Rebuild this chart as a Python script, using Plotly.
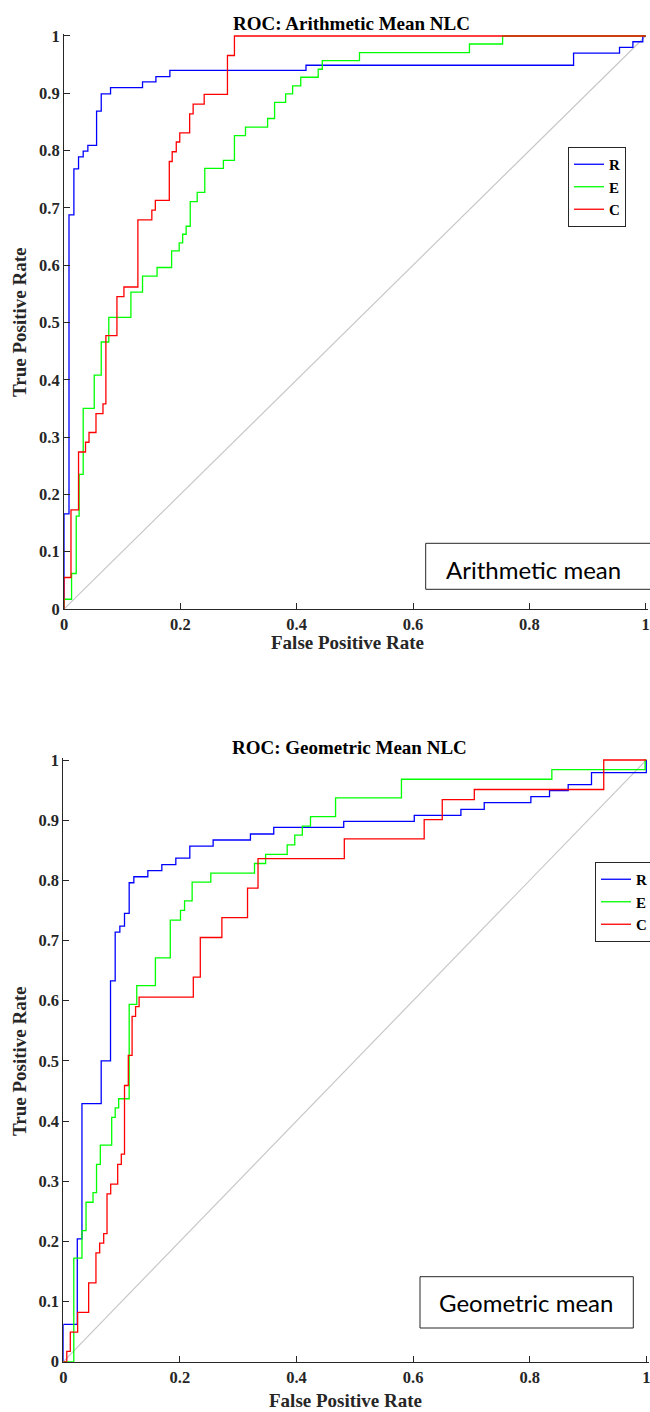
import plotly.graph_objects as go

# ---------------- Data ----------------
# Arithmetic mean NLC
am_R_fpr = [0, 0, 0.0086, 0.017, 0.025, 0.033, 0.041, 0.056, 0.064, 0.080, 0.135, 0.158, 0.182, 0.416, 0.876, 0.955, 0.978, 0.995, 1.0]
am_R_tpr = [0, 0.166, 0.688, 0.768, 0.789, 0.799, 0.809, 0.869, 0.899, 0.910, 0.920, 0.929, 0.940, 0.949, 0.970, 0.980, 0.990, 1.0, 1.0]

am_E_fpr = [0, 0, 0.013, 0.021, 0.026, 0.033, 0.052, 0.064, 0.077, 0.115, 0.135, 0.160, 0.185, 0.198, 0.204, 0.210, 0.217, 0.229,
            0.242, 0.274, 0.293, 0.312, 0.350, 0.362, 0.381, 0.393, 0.407, 0.437, 0.444, 0.508, 0.697, 0.754, 1.0]
am_E_tpr = [0, 0.017, 0.062, 0.162, 0.235, 0.350, 0.408, 0.466, 0.509, 0.553, 0.581, 0.596, 0.625, 0.639, 0.654, 0.668, 0.711, 0.727,
            0.769, 0.783, 0.826, 0.841, 0.856, 0.884, 0.899, 0.913, 0.928, 0.942, 0.957, 0.971, 0.986, 1.0, 1.0]

am_C_fpr = [0, 0, 0.012, 0.025, 0.037, 0.043, 0.055, 0.067, 0.072, 0.091, 0.103, 0.127, 0.151, 0.157, 0.181, 0.186, 0.193, 0.199,
            0.216, 0.222, 0.241, 0.281, 0.293, 1.0]
am_C_tpr = [0, 0.055, 0.173, 0.274, 0.291, 0.308, 0.341, 0.358, 0.477, 0.545, 0.562, 0.679, 0.696, 0.713, 0.781, 0.798, 0.815, 0.831,
            0.864, 0.881, 0.898, 0.966, 1.0, 1.0]

# Geometric mean NLC
gm_R_fpr = [0, 0, 0.024, 0.032, 0.065, 0.081, 0.089, 0.097, 0.105, 0.113, 0.121, 0.145, 0.169, 0.193, 0.217, 0.257, 0.321, 0.361,
            0.481, 0.602, 0.682, 0.722, 0.802, 0.834, 0.866, 0.906, 1.0]
gm_R_tpr = [0, 0.062, 0.204, 0.429, 0.500, 0.633, 0.714, 0.724, 0.745, 0.796, 0.806, 0.816, 0.826, 0.837, 0.857, 0.867, 0.877, 0.888,
            0.898, 0.908, 0.918, 0.929, 0.939, 0.949, 0.959, 0.979, 1.0]

gm_E_fpr = [0, 0.018, 0.032, 0.039, 0.051, 0.057, 0.0635, 0.083, 0.089, 0.095, 0.113, 0.126, 0.158, 0.1835, 0.201, 0.208, 0.221,
            0.253, 0.328, 0.347, 0.384, 0.397, 0.410, 0.424, 0.467, 0.580, 0.838, 0.998, 1.0]
gm_E_tpr = [0, 0.172, 0.218, 0.265, 0.281, 0.328, 0.360, 0.406, 0.422, 0.437, 0.594, 0.625, 0.671, 0.734, 0.750, 0.766, 0.797,
            0.812, 0.828, 0.843, 0.859, 0.875, 0.890, 0.906, 0.937, 0.968, 0.984, 1.0, 1.0]

gm_C_fpr = [0, 0.006, 0.012, 0.0246, 0.0435, 0.056, 0.0624, 0.0693, 0.075, 0.0813, 0.0933, 0.0995, 0.105, 0.1115, 0.118, 0.124,
            0.130, 0.223, 0.235, 0.272, 0.316, 0.334, 0.482, 0.619, 0.650, 0.705, 0.927, 1.0]
gm_C_tpr = [0, 0.017, 0.049, 0.082, 0.131, 0.181, 0.197, 0.213, 0.279, 0.295, 0.328, 0.345, 0.459, 0.509, 0.574, 0.590,
            0.606, 0.639, 0.705, 0.738, 0.787, 0.836, 0.869, 0.901, 0.934, 0.951, 1.0, 1.0]

chance_line = [0, 1]

series_names = ["R", "E", "C"]
series_colors = ["#0000ff", "#00ff00", "#ff0000"]

x_tickvals = [0, 0.2, 0.4, 0.6, 0.8, 1]
x_ticktext = ["0", "0.2", "0.4", "0.6", "0.8", "1"]
y_tickvals = [0, 0.1, 0.2, 0.3, 0.4, 0.5, 0.6, 0.7, 0.8, 0.9, 1]
y_ticktext = ["0", "0.1", "0.2", "0.3", "0.4", "0.5", "0.6", "0.7", "0.8", "0.9", "1"]

titles = ["ROC: Arithmetic Mean NLC", "ROC: Geometric Mean NLC"]
box_texts = ["Arithmetic mean", "Geometric mean"]
x_title = "False Positive Rate"
y_title = "True Positive Rate"

# ---------------- Figure ----------------
W, H = 650, 1412
SERIF = "Liberation Serif, Times New Roman, serif"
SANS = "Lato, Carlito, Calibri, sans-serif"
AX = "#262626"


def px_x(p):
    return p / W


def px_y(p):
    return 1 - p / H


fig = go.Figure()

panels = [
    dict(xa="x", ya="y", legend="legend",
         data=[(am_R_fpr, am_R_tpr), (am_E_fpr, am_E_tpr), (am_C_fpr, am_C_tpr)]),
    dict(xa="x2", ya="y2", legend="legend2",
         data=[(gm_R_fpr, gm_R_tpr), (gm_E_fpr, gm_E_tpr), (gm_C_fpr, gm_C_tpr)]),
]

for p in panels:
    fig.add_trace(go.Scatter(x=chance_line, y=chance_line, mode="lines",
                             line=dict(color="#c8c8c8", width=1.2),
                             showlegend=False, hoverinfo="skip",
                             xaxis=p["xa"], yaxis=p["ya"]))
    for (fx, ty), name, col in zip(p["data"], series_names, series_colors):
        fig.add_trace(go.Scatter(x=fx, y=ty, mode="lines", name=name,
                                 line=dict(color=col, width=1.3, shape="hv"),
                                 xaxis=p["xa"], yaxis=p["ya"], legend=p["legend"]))

axis_common = dict(showline=True, linecolor=AX, linewidth=1, ticks="inside", ticklen=6,
                   tickwidth=1, tickcolor=AX, showgrid=False, zeroline=False, automargin=False,
                   ticklabeloverflow="allow",
                   tickfont=dict(family=SERIF, size=16.5, color=AX, weight="bold"))

# panel geometry (pixels)
top = dict(x0=64, xs=581.7, y0=609, ys=573)
bot = dict(x0=63.3, xs=583, y0=1361.7, ys=601.7)
EXT = 1.004


def dom(g):
    xd = [px_x(g["x0"]), px_x(g["x0"] + EXT * g["xs"])]
    yd = [px_y(g["y0"]), px_y(g["y0"] - EXT * g["ys"])]
    return xd, yd


xd1, yd1 = dom(top)
xd2, yd2 = dom(bot)

legend_style = dict(xanchor="left", yanchor="top", bordercolor=AX, borderwidth=1, bgcolor="white",
                    font=dict(family=SERIF, size=15, color="black", weight="bold"),
                    tracegroupgap=0, itemwidth=30)

fig.update_layout(
    template="none",
    width=W, height=H, margin=dict(l=0, r=0, t=0, b=0, autoexpand=False),
    paper_bgcolor="white", plot_bgcolor="white",
    xaxis=dict(domain=xd1, range=[0, EXT], anchor="y", tickvals=x_tickvals, ticktext=x_ticktext, **axis_common),
    yaxis=dict(domain=yd1, range=[0, EXT], anchor="x", tickvals=y_tickvals, ticktext=y_ticktext, **axis_common),
    xaxis2=dict(domain=xd2, range=[0, EXT], anchor="y2", tickvals=x_tickvals, ticktext=x_ticktext, **axis_common),
    yaxis2=dict(domain=yd2, range=[0, EXT], anchor="x2", tickvals=y_tickvals, ticktext=y_ticktext, **axis_common),
    legend=dict(x=px_x(568), y=px_y(147), **legend_style),
    legend2=dict(x=px_x(595), y=px_y(862), **legend_style),
    showlegend=True,
)

title_font = dict(family=SERIF, size=19, color="black", weight="bold")
label_font = dict(family=SERIF, size=19, color=AX, weight="bold")

annotations = [
    dict(text=titles[0], x=px_x(351), y=px_y(23), xref="paper", yref="paper",
         showarrow=False, font=title_font, xanchor="center", yanchor="middle"),
    dict(text=titles[1], x=px_x(349), y=px_y(747), xref="paper", yref="paper",
         showarrow=False, font=title_font, xanchor="center", yanchor="middle"),
    dict(text=x_title, x=px_x(347), y=px_y(642), xref="paper", yref="paper",
         showarrow=False, font=label_font, xanchor="center", yanchor="middle"),
    dict(text=x_title, x=px_x(345), y=px_y(1400), xref="paper", yref="paper",
         showarrow=False, font=label_font, xanchor="center", yanchor="middle"),
    dict(text=y_title, x=px_x(20), y=px_y(322), xref="paper", yref="paper", textangle=-90,
         showarrow=False, font=label_font, xanchor="center", yanchor="middle"),
    dict(text=y_title, x=px_x(19), y=px_y(1061), xref="paper", yref="paper", textangle=-90,
         showarrow=False, font=label_font, xanchor="center", yanchor="middle"),
    dict(text=box_texts[0], x=px_x(444), y=px_y(569), xref="paper", yref="paper",
         showarrow=False, font=dict(family=SANS, size=24, color="black"),
         xanchor="left", yanchor="middle"),
    dict(text=box_texts[1], x=px_x(526), y=px_y(1302), xref="paper", yref="paper",
         showarrow=False, font=dict(family=SANS, size=24, color="black"),
         xanchor="center", yanchor="middle"),
]
fig.update_layout(annotations=annotations)

fig.add_shape(type="rect", xref="paper", yref="paper",
              x0=px_x(425.7), x1=px_x(660), y0=px_y(589.3), y1=px_y(543.3),
              line=dict(color=AX, width=1), fillcolor="rgba(0,0,0,0)")
fig.add_shape(type="rect", xref="paper", yref="paper",
              x0=px_x(420), x1=px_x(633.3), y0=px_y(1328), y1=px_y(1276.7),
              line=dict(color=AX, width=1), fillcolor="rgba(0,0,0,0)")

# remove the browser's default 8px page margin so the figure fills the window exactly
fig.write_html("out.html", config={"displayModeBar": False},
               post_script="document.body.style.margin='0';document.body.style.overflow='hidden';")
